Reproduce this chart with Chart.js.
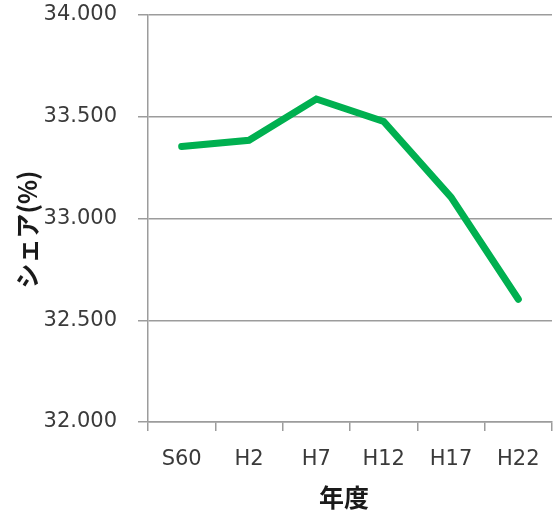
<!DOCTYPE html>
<html>
<head>
<meta charset="utf-8">
<script src="https://cdn.jsdelivr.net/npm/chart.js@4/dist/chart.umd.min.js"></script>
<style>
  html, body { margin: 0; padding: 0; background: #fff; }
  #wrap { width: 554px; height: 512px; position: relative; }
</style>
</head>
<body>
<div id="wrap"><canvas id="c" width="554" height="512"></canvas></div>
<script>
// 年度別シェア(%)
const categories = ['S60', 'H2', 'H7', 'H12', 'H17', 'H22'];
const shareValues = [33.354, 33.384, 33.587, 33.477, 33.105, 32.603];
const yMin = 32.0;
const yMax = 34.0;
const yStep = 0.5;
const xTitle = '年度';
const yTitle = 'シェア(%)';

const gridColor = '#9c9c9c';
const tickColor = '#3a3a3a';

// Axis titles placed by hand so they sit where they belong in the layout
const axisTitles = {
  id: 'axisTitles',
  afterDraw(chart) {
    const ctx = chart.ctx;
    const area = chart.chartArea;
    ctx.save();
    ctx.fillStyle = '#1a1a1a';
    ctx.font = 'bold 25px "Noto Sans CJK JP"';
    ctx.textAlign = 'center';
    ctx.textBaseline = 'middle';
    ctx.fillText(xTitle, (area.left + area.right) / 2 - 6, 497);
    ctx.translate(27, (area.top + area.bottom) / 2 + 11);
    ctx.rotate(-Math.PI / 2);
    ctx.fillText(yTitle, 0, 0);
    ctx.restore();
  }
};

new Chart(document.getElementById('c'), {
  type: 'line',
  data: {
    labels: categories,
    datasets: [{
      data: shareValues,
      borderColor: '#00B050',
      backgroundColor: '#00B050',
      borderWidth: 7,
      borderCapStyle: 'round',
      borderJoinStyle: 'miter',
      pointRadius: 0,
      pointHoverRadius: 0,
      tension: 0,
      fill: false
    }]
  },
  options: {
    responsive: false,
    animation: false,
    events: [],
    layout: { padding: { top: 15, right: 2, bottom: 0, left: 0 } },
    plugins: {
      legend: { display: false },
      tooltip: { enabled: false }
    },
    scales: {
      x: {
        type: 'category',
        offset: true,
        grid: {
          offset: true,
          drawOnChartArea: false,
          drawTicks: true,
          tickLength: 9,
          color: gridColor,
          lineWidth: 1.5
        },
        border: { display: true, color: gridColor, width: 1.5 },
        ticks: {
          color: tickColor,
          font: { family: '"DejaVu Sans"', size: 21 },
          padding: 16,
          maxRotation: 0,
          autoSkip: false
        },
        afterFit(scale) {
          scale.height = 90;
          scale.paddingLeft = 0;
          scale.paddingRight = 0;
        }
      },
      y: {
        min: yMin,
        max: yMax,
        grid: {
          drawTicks: true,
          tickLength: 10,
          color: gridColor,
          lineWidth: 1.5
        },
        border: { display: true, color: gridColor, width: 1.5 },
        ticks: {
          stepSize: yStep,
          color: tickColor,
          font: { family: '"DejaVu Sans"', size: 21 },
          padding: 21,
          callback: (v) => Number(v).toFixed(3)
        },
        afterFit(scale) {
          scale.width = 148;
          scale.paddingTop = 0;
          scale.paddingBottom = 0;
        }
      }
    }
  },
  plugins: [axisTitles]
});
</script>
</body>
</html>
